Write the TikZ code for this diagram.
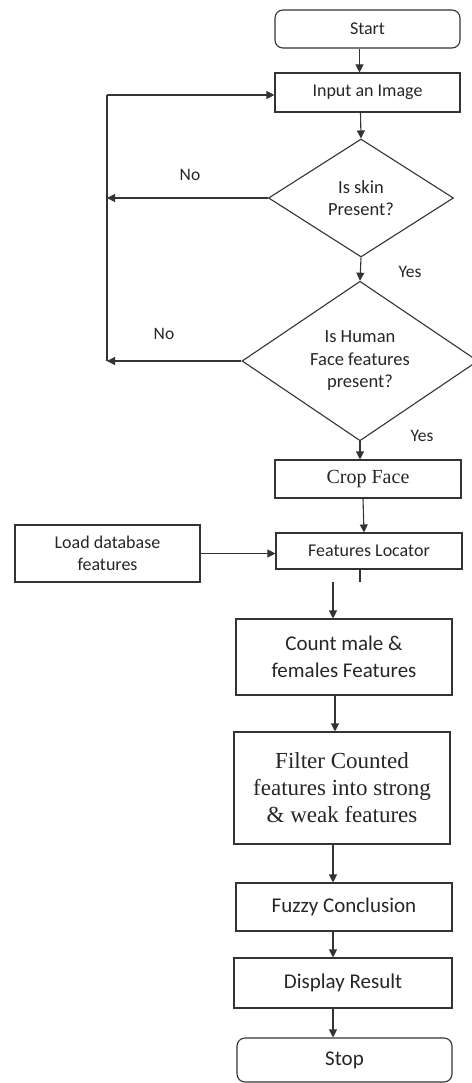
\documentclass[tikz,border=0pt]{standalone}
\usepackage{fontspec}
\setmainfont{Carlito}
\newfontfamily\serif{Liberation Serif}
\usetikzlibrary{arrows.meta,shapes.geometric}
\begin{document}
\begin{tikzpicture}[x=1pt,y=-1pt,
  ln/.style={draw=black!80, line width=1.1pt},
  box/.style={ln, rectangle, inner sep=0pt, align=center, text=black!85,
    font=\fontsize{18}{22}\selectfont},
  bigbox/.style={box, font=\fontsize{21}{27}\selectfont},
  rbox/.style={box, rounded corners=8pt},
  dec/.style={ln, diamond, inner sep=0pt, align=center, text=black!85,
    font=\fontsize{18.5}{22.5}\selectfont},
  arr/.style={ln, -{Triangle[length=8pt,width=8pt]}},
  lbl/.style={text=black!85, font=\fontsize{17.5}{20}\selectfont}
]
\useasboundingbox (0,0) rectangle (471,1083);

\node[rbox, minimum width=185pt, minimum height=38pt] (start) at (367.5,29) {Start};
\node[box, minimum width=185pt, minimum height=39pt] (input) at (367.5,92.5) {Input an Image};
\node[dec, minimum width=185pt, minimum height=118pt] (d1) at (361,198) {Is skin\\Present?};
\node[dec, minimum width=236pt, minimum height=148pt] (d2) at (360,361) {Is Human\\Face features\\present?};
\node[box, minimum width=186pt, minimum height=38pt, font=\serif\fontsize{20}{24}\selectfont] (crop) at (368,479) {Crop Face};
\node[box, minimum width=186pt, minimum height=36pt] (floc) at (369,551) {Features Locator};
\node[box, minimum width=185pt, minimum height=57pt] (load) at (107.5,553.5) {Load database\\features};
\node[bigbox, minimum width=216pt, minimum height=76pt] (count) at (344,657) {Count male \&\\females Features};
\node[box, minimum width=216pt, minimum height=112pt, font=\serif\fontsize{23}{27}\selectfont] (filter) at (342,788) {Filter Counted\\features into strong\\\& weak features};
\node[bigbox, minimum width=216pt, minimum height=48pt] (fuzzy) at (344,907) {Fuzzy Conclusion};
\node[bigbox, minimum width=218pt, minimum height=50pt] (disp) at (343,983) {Display Result};
\node[rbox, bigbox, rounded corners=8pt, minimum width=215pt, minimum height=44pt] (stop) at (344.5,1060) {Stop};

\node[lbl] (no1) at (190,175) {No};
\node[lbl] (no2) at (164,334) {No};
\node[lbl] (yes1) at (410,272) {Yes};
\node[lbl] (yes2) at (422,436) {Yes};

\coordinate (lt) at (107,95);
\coordinate (lb) at (107,361);
\coordinate (gapTop) at (360,582);
\coordinate (gapArr) at (333,582);

\draw[arr] ([xshift=-8pt]start.south) -- ([xshift=-8pt]input.north);
\draw[arr] ([xshift=-7pt]input.south) -- (d1.north);
\draw[arr] (d1.south) -- (d2.north);
\draw[arr] (d2.south) -- (d2.south |- crop.north);
\draw[arr] ([xshift=-5pt]crop.south) -- ([xshift=-5pt]floc.north);
\draw[arr] (load.east) -- (load.east -| floc.west);
\draw[ln] (floc.south -| gapTop) -- (gapTop);
\draw[arr] (gapArr) -- (gapArr |- count.north);
\draw[arr] ([xshift=-9pt]count.south) -- ([xshift=-9pt]count.south |- filter.north);
\draw[arr] ([xshift=-9pt]filter.south) -- ([xshift=-9pt]filter.south |- fuzzy.north);
\draw[arr] ([xshift=-11pt]fuzzy.south) -- ([xshift=-11pt]fuzzy.south |- disp.north);
\draw[arr] ([xshift=-10pt]disp.south) -- ([xshift=-10pt]disp.south |- stop.north);

\draw[ln] (lb) -- (lt);
\draw[arr] (lt) -- (lt -| input.west);
\draw[arr] (d1.west) -- (d1.west -| lt);
\draw[arr] (d2.west) -- (d2.west -| lb);
\end{tikzpicture}
\end{document}
